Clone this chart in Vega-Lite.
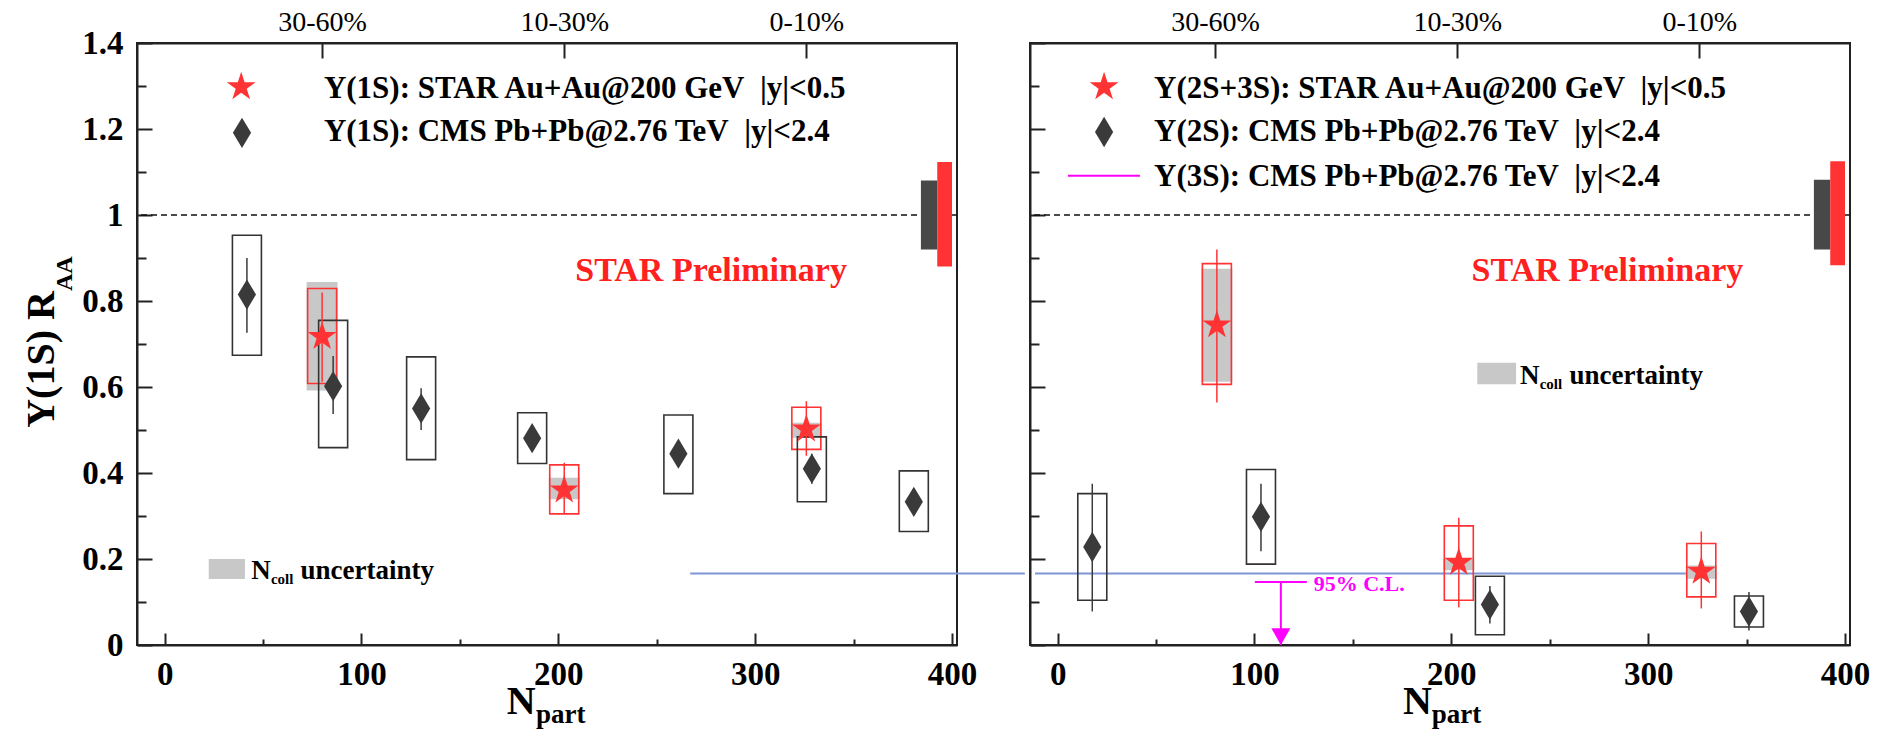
{
  "$schema": "https://vega.github.io/schema/vega-lite/v6.json",
  "background": "white",
  "padding": {"left": 20, "top": 7, "right": 0, "bottom": 0},
  "spacing": 73,
  "bounds": "flush",
  "config": {"view": {"stroke": "#222", "strokeWidth": 2}, "axis": {"grid": false}},
  "datasets": {
    "points": [
      {"panel":"1S","series":"STAR","N":80,"R":0.717,"errLo":0.612,"errHi":0.82,"sysLo":0.608,"sysHi":0.829,"ncollLo":0.592,"ncollHi":0.844},
      {"panel":"1S","series":"STAR","N":203,"R":0.36,"errLo":0.305,"errHi":0.424,"sysLo":0.305,"sysHi":0.419,"ncollLo":0.339,"ncollHi":0.389},
      {"panel":"1S","series":"STAR","N":326,"R":0.502,"errLo":0.44,"errHi":0.567,"sysLo":0.455,"sysHi":0.553,"ncollLo":0.482,"ncollHi":0.517},
      {"panel":"1S","series":"CMS","N":41.8,"R":0.815,"errLo":0.726,"errHi":0.9,"sysLo":0.674,"sysHi":0.953},
      {"panel":"1S","series":"CMS","N":85.6,"R":0.602,"errLo":0.537,"errHi":0.672,"sysLo":0.459,"sysHi":0.755},
      {"panel":"1S","series":"CMS","N":130.3,"R":0.55,"errLo":0.5,"errHi":0.597,"sysLo":0.431,"sysHi":0.67},
      {"panel":"1S","series":"CMS","N":186.7,"R":0.481,"errLo":0.455,"errHi":0.505,"sysLo":0.422,"sysHi":0.54},
      {"panel":"1S","series":"CMS","N":261,"R":0.445,"errLo":0.415,"errHi":0.475,"sysLo":0.352,"sysHi":0.535},
      {"panel":"1S","series":"CMS","N":328.8,"R":0.41,"errLo":0.375,"errHi":0.445,"sysLo":0.333,"sysHi":0.484},
      {"panel":"1S","series":"CMS","N":380.6,"R":0.333,"errLo":0.305,"errHi":0.36,"sysLo":0.264,"sysHi":0.405},
      {"panel":"2S3S","series":"STAR","N":80.9,"R":0.744,"errLo":0.564,"errHi":0.92,"sysLo":0.606,"sysHi":0.887,"ncollLo":0.612,"ncollHi":0.875},
      {"panel":"2S3S","series":"STAR","N":203.8,"R":0.192,"errLo":0.087,"errHi":0.296,"sysLo":0.104,"sysHi":0.277,"ncollLo":0.174,"ncollHi":0.2},
      {"panel":"2S3S","series":"STAR","N":327,"R":0.171,"errLo":0.085,"errHi":0.264,"sysLo":0.112,"sysHi":0.236,"ncollLo":0.154,"ncollHi":0.185},
      {"panel":"2S3S","series":"CMS","N":17.6,"R":0.228,"errLo":0.078,"errHi":0.375,"sysLo":0.104,"sysHi":0.352},
      {"panel":"2S3S","series":"CMS","N":103.3,"R":0.298,"errLo":0.218,"errHi":0.375,"sysLo":0.188,"sysHi":0.408},
      {"panel":"2S3S","series":"CMS","N":219.6,"R":0.094,"errLo":0.05,"errHi":0.137,"sysLo":0.024,"sysHi":0.16},
      {"panel":"2S3S","series":"CMS","N":351.2,"R":0.078,"errLo":0.034,"errHi":0.123,"sysLo":0.042,"sysHi":0.114}
    ],
    "legendMarks": [
      {"panel":"1S","series":"STAR","N":38.9,"R":1.298},
      {"panel":"1S","series":"CMS","N":39.3,"R":1.191},
      {"panel":"2S3S","series":"STAR","N":23.6,"R":1.298},
      {"panel":"2S3S","series":"CMS","N":23.6,"R":1.193}
    ],
    "norm": [
      {"panel":"1S","kind":"CMS","N1":384.2,"N2":392.5,"lo":0.92,"hi":1.08},
      {"panel":"1S","kind":"STAR","N1":392.5,"N2":400,"lo":0.88,"hi":1.123},
      {"panel":"2S3S","kind":"CMS","N1":384.2,"N2":392.5,"lo":0.92,"hi":1.082},
      {"panel":"2S3S","kind":"STAR","N1":392.5,"N2":400,"lo":0.883,"hi":1.125}
    ],
    "ncollKey": [
      {"panel":"1S","N1":22.4,"N2":40.8,"lo":0.1535,"hi":0.2},
      {"panel":"2S3S","N1":213.2,"N2":232.9,"lo":0.6065,"hi":0.6565}
    ],
    "blueLine": [
      {"panel":"1S","N1":267,"N2":437,"R":0.1665},
      {"panel":"2S3S","N1":-11.5,"N2":328,"R":0.1665}
    ],
    "limitKey": [
      {"panel":"2S3S","N":23.5,"R":1.091}
    ],
    "upper": [
      {"panel":"2S3S","N":113.4,"R":0.1465,"base":0}
    ],
    "texts": [
      {"panel":"1S","role":"legend","N":80.9,"R":1.273,"label":"\u03a5(1S): STAR Au+Au@200 GeV\u00a0\u00a0|y|<0.5"},
      {"panel":"1S","role":"legend","N":80.9,"R":1.172,"label":"\u03a5(1S): CMS Pb+Pb@2.76 TeV\u00a0\u00a0|y|<2.4"},
      {"panel":"1S","role":"prelim","N":208.6,"R":0.8465,"label":"STAR Preliminary"},
      {"panel":"1S","role":"ncollN","N":44,"R":0.1535,"label":"N"},
      {"panel":"1S","role":"ncollSub","N":54,"R":0.142,"label":"coll"},
      {"panel":"1S","role":"ncollText","N":69,"R":0.1535,"label":"uncertainty"},
      {"panel":"1S","role":"ytitle","N":-56.4,"R":0.823,"label":"\u03a5(1S) R"},
      {"panel":"1S","role":"ytitleSub","N":-46.9,"R":0.823,"label":"AA"},
      {"panel":"1S","role":"xtitle","N":173.8,"R":-0.1605,"label":"N"},
      {"panel":"1S","role":"xtitleSub","N":188.6,"R":-0.1814,"label":"part"},
      {"panel":"2S3S","role":"legend","N":49,"R":1.273,"label":"\u03a5(2S+3S): STAR Au+Au@200 GeV\u00a0\u00a0|y|<0.5"},
      {"panel":"2S3S","role":"legend","N":49,"R":1.171,"label":"\u03a5(2S): CMS Pb+Pb@2.76 TeV\u00a0\u00a0|y|<2.4"},
      {"panel":"2S3S","role":"legend","N":49,"R":1.067,"label":"\u03a5(3S): CMS Pb+Pb@2.76 TeV\u00a0\u00a0|y|<2.4"},
      {"panel":"2S3S","role":"prelim","N":210.3,"R":0.8465,"label":"STAR Preliminary"},
      {"panel":"2S3S","role":"ncollN","N":234.9,"R":0.6063,"label":"N"},
      {"panel":"2S3S","role":"ncollSub","N":244.9,"R":0.595,"label":"coll"},
      {"panel":"2S3S","role":"ncollText","N":260,"R":0.6063,"label":"uncertainty"},
      {"panel":"2S3S","role":"xtitle","N":175.4,"R":-0.1605,"label":"N"},
      {"panel":"2S3S","role":"xtitleSub","N":190,"R":-0.1814,"label":"part"},
      {"panel":"2S3S","role":"cl","N":130.1,"R":0.1256,"label":"95% C.L."}
    ]
  },
  "hconcat": [
    {
      "width": 820, "height": 602,
      "resolve": {"axis": {"x": "independent", "y": "independent"}},
      "layer": [
        {"data": {"values": [{"one": 1}]},
         "mark": {"type": "rule", "strokeDash": [6, 4], "strokeWidth": 1.5, "color": "#111"},
         "encoding": {"y": {"datum": 1, "type": "quantitative", "scale": {"domain": [0, 1.4], "nice": false, "zero": false}, "axis": null}}},
        {"data": {"name": "blueLine"}, "transform": [{"filter": "datum.panel == '1S'"}],
         "mark": {"type": "rule", "strokeWidth": 2, "color": "#7f95d6"},
         "encoding": {"x": {"field": "N1", "type": "quantitative", "scale": {"domain": [-11.5, 400], "nice": false, "zero": false}, "axis": null},
                      "x2": {"field": "N2"},
                      "y": {"field": "R", "type": "quantitative", "scale": {"domain": [0, 1.4], "nice": false, "zero": false}, "axis": null}}},
        {"data": {"name": "norm"}, "transform": [{"filter": "datum.panel == '1S'"}],
         "mark": {"type": "rect"},
         "encoding": {"x": {"field": "N1", "type": "quantitative", "scale": {"domain": [-11.5, 400], "nice": false, "zero": false}, "axis": null},
                      "x2": {"field": "N2"},
                      "y": {"field": "lo", "type": "quantitative", "scale": {"domain": [0, 1.4], "nice": false, "zero": false}, "axis": null},
                      "y2": {"field": "hi"},
                      "fill": {"field": "kind", "type": "nominal", "scale": {"domain": ["STAR", "CMS"], "range": ["#ff3333", "#484848"]}, "legend": null}}},
        {"data": {"name": "ncollKey"}, "transform": [{"filter": "datum.panel == '1S'"}],
         "mark": {"type": "rect", "color": "#c8c8c8"},
         "encoding": {"x": {"field": "N1", "type": "quantitative", "scale": {"domain": [-11.5, 400], "nice": false, "zero": false}, "axis": null},
                      "x2": {"field": "N2"},
                      "y": {"field": "lo", "type": "quantitative", "scale": {"domain": [0, 1.4], "nice": false, "zero": false}, "axis": null},
                      "y2": {"field": "hi"}}},
        {"data": {"name": "points"}, "transform": [{"filter": "datum.panel == '1S' && datum.series == 'STAR'"}],
         "mark": {"type": "bar", "width": 31, "color": "#c8c8c8"},
         "encoding": {"x": {"field": "N", "type": "quantitative", "scale": {"domain": [-11.5, 400], "nice": false, "zero": false},
                            "axis": {"orient": "bottom", "values": [0, 100, 200, 300, 400], "format": "d", "title": null, "tickSize": -12, "tickWidth": 2, "tickColor": "#222", "domain": true, "domainColor": "#222", "domainWidth": 2, "labelFont": "Liberation Serif", "labelFontWeight": "bold", "labelFontSize": 33, "labelColor": "#000", "labelPadding": 25, "labelFlush": false, "labelOverlap": false, "grid": false}},
                      "y": {"field": "ncollLo", "type": "quantitative", "scale": {"domain": [0, 1.4], "nice": false, "zero": false},
                            "axis": {"orient": "left", "values": [0, 0.2, 0.4, 0.6, 0.8, 1, 1.2, 1.4], "format": "~g", "title": null, "tickSize": -15, "tickWidth": 2, "tickColor": "#222", "domain": true, "domainColor": "#222", "domainWidth": 2, "labelFont": "Liberation Serif", "labelFontWeight": "bold", "labelFontSize": 33, "labelColor": "#000", "labelPadding": 29, "labelOverlap": false, "grid": false}},
                      "y2": {"field": "ncollHi"}}},
        {"data": {"name": "points"}, "transform": [{"filter": "datum.panel == '1S'"}],
         "mark": {"type": "bar", "width": 29, "fillOpacity": 0, "strokeWidth": 1.6},
         "encoding": {"x": {"field": "N", "type": "quantitative", "scale": {"domain": [-11.5, 400], "nice": false, "zero": false},
                            "axis": {"orient": "bottom", "values": [50, 150, 250, 350], "title": null, "tickSize": -6, "tickWidth": 2, "tickColor": "#222", "domain": false, "labels": false, "grid": false}},
                      "y": {"field": "sysLo", "type": "quantitative", "scale": {"domain": [0, 1.4], "nice": false, "zero": false},
                            "axis": {"orient": "left", "values": [0.1, 0.3, 0.5, 0.7, 0.9, 1.1, 1.3], "title": null, "tickSize": -9, "tickWidth": 2, "tickColor": "#222", "domain": false, "labels": false, "grid": false}},
                      "y2": {"field": "sysHi"},
                      "stroke": {"field": "series", "type": "nominal", "scale": {"domain": ["STAR", "CMS"], "range": ["#ff3333", "#333333"]}, "legend": null}}},
        {"data": {"name": "points"}, "transform": [{"filter": "datum.panel == '1S'"}],
         "mark": {"type": "rule", "strokeWidth": 1.5},
         "encoding": {"x": {"field": "N", "type": "quantitative", "scale": {"domain": [-11.5, 400], "nice": false, "zero": false},
                            "axis": {"orient": "top", "values": [80, 203, 326], "labelExpr": "datum.value == 80 ? '30-60%' : (datum.value == 203 ? '10-30%' : '0-10%')", "title": null, "tickSize": -15, "tickWidth": 2, "tickColor": "#222", "domain": true, "domainColor": "#222", "domainWidth": 2, "labelFont": "Liberation Serif", "labelFontSize": 28, "labelColor": "#000", "labelPadding": 22, "labelFlush": false, "labelOverlap": false, "grid": false}},
                      "y": {"field": "errLo", "type": "quantitative", "scale": {"domain": [0, 1.4], "nice": false, "zero": false}, "axis": null},
                      "y2": {"field": "errHi"},
                      "color": {"field": "series", "type": "nominal", "scale": {"domain": ["STAR", "CMS"], "range": ["#ff3333", "#3a3a3a"]}, "legend": null}}},
        {"data": {"name": "points"}, "transform": [{"filter": "datum.panel == '1S'"}],
         "mark": {"type": "point", "filled": true, "opacity": 1, "size": 920, "strokeWidth": 0},
         "encoding": {"x": {"field": "N", "type": "quantitative", "scale": {"domain": [-11.5, 400], "nice": false, "zero": false}, "axis": null},
                      "y": {"field": "R", "type": "quantitative", "scale": {"domain": [0, 1.4], "nice": false, "zero": false}, "axis": null},
                      "shape": {"field": "series", "type": "nominal", "scale": {"domain": ["STAR", "CMS"], "range": ["M0,-1L0.2245,-0.309L0.9511,-0.309L0.3633,0.118L0.5878,0.809L0,0.382L-0.5878,0.809L-0.3633,0.118L-0.9511,-0.309L-0.2245,-0.309Z", "M0,-1L0.6,0L0,1L-0.6,0Z"]}, "legend": null},
                      "color": {"field": "series", "type": "nominal", "scale": {"domain": ["STAR", "CMS"], "range": ["#ff3333", "#3a3a3a"]}, "legend": null}}},
        {"data": {"name": "legendMarks"}, "transform": [{"filter": "datum.panel == '1S'"}],
         "mark": {"type": "point", "filled": true, "opacity": 1, "size": 920, "strokeWidth": 0},
         "encoding": {"x": {"field": "N", "type": "quantitative", "scale": {"domain": [-11.5, 400], "nice": false, "zero": false}, "axis": null},
                      "y": {"field": "R", "type": "quantitative", "scale": {"domain": [0, 1.4], "nice": false, "zero": false}, "axis": null},
                      "shape": {"field": "series", "type": "nominal", "scale": {"domain": ["STAR", "CMS"], "range": ["M0,-1L0.2245,-0.309L0.9511,-0.309L0.3633,0.118L0.5878,0.809L0,0.382L-0.5878,0.809L-0.3633,0.118L-0.9511,-0.309L-0.2245,-0.309Z", "M0,-1L0.6,0L0,1L-0.6,0Z"]}, "legend": null},
                      "color": {"field": "series", "type": "nominal", "scale": {"domain": ["STAR", "CMS"], "range": ["#ff3333", "#3a3a3a"]}, "legend": null}}},
        {"data": {"name": "texts"}, "transform": [{"filter": "datum.panel == '1S' && datum.role == 'legend'"}],
         "mark": {"type": "text", "align": "left", "baseline": "alphabetic", "font": "Liberation Serif", "fontSize": 31, "fontWeight": "bold", "color": "#000"},
         "encoding": {"x": {"field": "N", "type": "quantitative", "scale": {"domain": [-11.5, 400], "nice": false, "zero": false}, "axis": null},
                      "y": {"field": "R", "type": "quantitative", "scale": {"domain": [0, 1.4], "nice": false, "zero": false}, "axis": null},
                      "text": {"field": "label"}}},
        {"data": {"name": "texts"}, "transform": [{"filter": "datum.panel == '1S' && datum.role == 'prelim'"}],
         "mark": {"type": "text", "align": "left", "baseline": "alphabetic", "font": "Liberation Serif", "fontSize": 34, "fontWeight": "bold", "color": "#ff2020"},
         "encoding": {"x": {"field": "N", "type": "quantitative", "scale": {"domain": [-11.5, 400], "nice": false, "zero": false}, "axis": null},
                      "y": {"field": "R", "type": "quantitative", "scale": {"domain": [0, 1.4], "nice": false, "zero": false}, "axis": null},
                      "text": {"field": "label"}}},
        {"data": {"name": "texts"}, "transform": [{"filter": "datum.panel == '1S' && datum.role == 'ncollN'"}],
         "mark": {"type": "text", "align": "left", "baseline": "alphabetic", "font": "Liberation Serif", "fontSize": 27, "fontWeight": "bold", "color": "#000"},
         "encoding": {"x": {"field": "N", "type": "quantitative", "scale": {"domain": [-11.5, 400], "nice": false, "zero": false}, "axis": null},
                      "y": {"field": "R", "type": "quantitative", "scale": {"domain": [0, 1.4], "nice": false, "zero": false}, "axis": null},
                      "text": {"field": "label"}}},
        {"data": {"name": "texts"}, "transform": [{"filter": "datum.panel == '1S' && datum.role == 'ncollSub'"}],
         "mark": {"type": "text", "align": "left", "baseline": "alphabetic", "font": "Liberation Serif", "fontSize": 15, "fontWeight": "bold", "color": "#000"},
         "encoding": {"x": {"field": "N", "type": "quantitative", "scale": {"domain": [-11.5, 400], "nice": false, "zero": false}, "axis": null},
                      "y": {"field": "R", "type": "quantitative", "scale": {"domain": [0, 1.4], "nice": false, "zero": false}, "axis": null},
                      "text": {"field": "label"}}},
        {"data": {"name": "texts"}, "transform": [{"filter": "datum.panel == '1S' && datum.role == 'ncollText'"}],
         "mark": {"type": "text", "align": "left", "baseline": "alphabetic", "font": "Liberation Serif", "fontSize": 27, "fontWeight": "bold", "color": "#000"},
         "encoding": {"x": {"field": "N", "type": "quantitative", "scale": {"domain": [-11.5, 400], "nice": false, "zero": false}, "axis": null},
                      "y": {"field": "R", "type": "quantitative", "scale": {"domain": [0, 1.4], "nice": false, "zero": false}, "axis": null},
                      "text": {"field": "label"}}},
        {"data": {"name": "texts"}, "transform": [{"filter": "datum.panel == '1S' && datum.role == 'ytitle'"}],
         "mark": {"type": "text", "angle": 270, "align": "right", "baseline": "alphabetic", "font": "Liberation Serif", "fontSize": 40, "fontWeight": "bold", "color": "#000"},
         "encoding": {"x": {"field": "N", "type": "quantitative", "scale": {"domain": [-11.5, 400], "nice": false, "zero": false}, "axis": null},
                      "y": {"field": "R", "type": "quantitative", "scale": {"domain": [0, 1.4], "nice": false, "zero": false}, "axis": null},
                      "text": {"field": "label"}}},
        {"data": {"name": "texts"}, "transform": [{"filter": "datum.panel == '1S' && datum.role == 'ytitleSub'"}],
         "mark": {"type": "text", "angle": 270, "align": "left", "baseline": "alphabetic", "font": "Liberation Serif", "fontSize": 24, "fontWeight": "bold", "color": "#000"},
         "encoding": {"x": {"field": "N", "type": "quantitative", "scale": {"domain": [-11.5, 400], "nice": false, "zero": false}, "axis": null},
                      "y": {"field": "R", "type": "quantitative", "scale": {"domain": [0, 1.4], "nice": false, "zero": false}, "axis": null},
                      "text": {"field": "label"}}},
        {"data": {"name": "texts"}, "transform": [{"filter": "datum.panel == '1S' && datum.role == 'xtitle'"}],
         "mark": {"type": "text", "align": "left", "baseline": "alphabetic", "font": "Liberation Serif", "fontSize": 40, "fontWeight": "bold", "color": "#000"},
         "encoding": {"x": {"field": "N", "type": "quantitative", "scale": {"domain": [-11.5, 400], "nice": false, "zero": false}, "axis": null},
                      "y": {"field": "R", "type": "quantitative", "scale": {"domain": [0, 1.4], "nice": false, "zero": false}, "axis": null},
                      "text": {"field": "label"}}},
        {"data": {"name": "texts"}, "transform": [{"filter": "datum.panel == '1S' && datum.role == 'xtitleSub'"}],
         "mark": {"type": "text", "align": "left", "baseline": "alphabetic", "font": "Liberation Serif", "fontSize": 27, "fontWeight": "bold", "color": "#000"},
         "encoding": {"x": {"field": "N", "type": "quantitative", "scale": {"domain": [-11.5, 400], "nice": false, "zero": false}, "axis": null},
                      "y": {"field": "R", "type": "quantitative", "scale": {"domain": [0, 1.4], "nice": false, "zero": false}, "axis": null},
                      "text": {"field": "label"}}}
      ]
    },
    {
      "width": 820, "height": 602,
      "resolve": {"axis": {"x": "independent", "y": "independent"}},
      "layer": [
        {"data": {"values": [{"one": 1}]},
         "mark": {"type": "rule", "strokeDash": [6, 4], "strokeWidth": 1.5, "color": "#111"},
         "encoding": {"y": {"datum": 1, "type": "quantitative", "scale": {"domain": [0, 1.4], "nice": false, "zero": false}, "axis": null}}},
        {"data": {"name": "blueLine"}, "transform": [{"filter": "datum.panel == '2S3S'"}],
         "mark": {"type": "rule", "strokeWidth": 2, "color": "#7f95d6"},
         "encoding": {"x": {"field": "N1", "type": "quantitative", "scale": {"domain": [-11.5, 400], "nice": false, "zero": false}, "axis": null},
                      "x2": {"field": "N2"},
                      "y": {"field": "R", "type": "quantitative", "scale": {"domain": [0, 1.4], "nice": false, "zero": false}, "axis": null}}},
        {"data": {"name": "norm"}, "transform": [{"filter": "datum.panel == '2S3S'"}],
         "mark": {"type": "rect"},
         "encoding": {"x": {"field": "N1", "type": "quantitative", "scale": {"domain": [-11.5, 400], "nice": false, "zero": false}, "axis": null},
                      "x2": {"field": "N2"},
                      "y": {"field": "lo", "type": "quantitative", "scale": {"domain": [0, 1.4], "nice": false, "zero": false}, "axis": null},
                      "y2": {"field": "hi"},
                      "fill": {"field": "kind", "type": "nominal", "scale": {"domain": ["STAR", "CMS"], "range": ["#ff3333", "#484848"]}, "legend": null}}},
        {"data": {"name": "ncollKey"}, "transform": [{"filter": "datum.panel == '2S3S'"}],
         "mark": {"type": "rect", "color": "#c8c8c8"},
         "encoding": {"x": {"field": "N1", "type": "quantitative", "scale": {"domain": [-11.5, 400], "nice": false, "zero": false}, "axis": null},
                      "x2": {"field": "N2"},
                      "y": {"field": "lo", "type": "quantitative", "scale": {"domain": [0, 1.4], "nice": false, "zero": false}, "axis": null},
                      "y2": {"field": "hi"}}},
        {"data": {"name": "points"}, "transform": [{"filter": "datum.panel == '2S3S' && datum.series == 'STAR'"}],
         "mark": {"type": "bar", "width": 31, "color": "#c8c8c8"},
         "encoding": {"x": {"field": "N", "type": "quantitative", "scale": {"domain": [-11.5, 400], "nice": false, "zero": false},
                            "axis": {"orient": "bottom", "values": [0, 100, 200, 300, 400], "format": "d", "title": null, "tickSize": -12, "tickWidth": 2, "tickColor": "#222", "domain": true, "domainColor": "#222", "domainWidth": 2, "labelFont": "Liberation Serif", "labelFontWeight": "bold", "labelFontSize": 33, "labelColor": "#000", "labelPadding": 25, "labelFlush": false, "labelOverlap": false, "grid": false}},
                      "y": {"field": "ncollLo", "type": "quantitative", "scale": {"domain": [0, 1.4], "nice": false, "zero": false},
                            "axis": {"orient": "left", "values": [0, 0.2, 0.4, 0.6, 0.8, 1, 1.2, 1.4], "title": null, "tickSize": -15, "tickWidth": 2, "tickColor": "#222", "domain": true, "domainColor": "#222", "domainWidth": 2, "labels": false, "grid": false}},
                      "y2": {"field": "ncollHi"}}},
        {"data": {"name": "points"}, "transform": [{"filter": "datum.panel == '2S3S'"}],
         "mark": {"type": "bar", "width": 29, "fillOpacity": 0, "strokeWidth": 1.6},
         "encoding": {"x": {"field": "N", "type": "quantitative", "scale": {"domain": [-11.5, 400], "nice": false, "zero": false},
                            "axis": {"orient": "bottom", "values": [50, 150, 250, 350], "title": null, "tickSize": -6, "tickWidth": 2, "tickColor": "#222", "domain": false, "labels": false, "grid": false}},
                      "y": {"field": "sysLo", "type": "quantitative", "scale": {"domain": [0, 1.4], "nice": false, "zero": false},
                            "axis": {"orient": "left", "values": [0.1, 0.3, 0.5, 0.7, 0.9, 1.1, 1.3], "title": null, "tickSize": -9, "tickWidth": 2, "tickColor": "#222", "domain": false, "labels": false, "grid": false}},
                      "y2": {"field": "sysHi"},
                      "stroke": {"field": "series", "type": "nominal", "scale": {"domain": ["STAR", "CMS"], "range": ["#ff3333", "#333333"]}, "legend": null}}},
        {"data": {"name": "points"}, "transform": [{"filter": "datum.panel == '2S3S'"}],
         "mark": {"type": "rule", "strokeWidth": 1.5},
         "encoding": {"x": {"field": "N", "type": "quantitative", "scale": {"domain": [-11.5, 400], "nice": false, "zero": false},
                            "axis": {"orient": "top", "values": [80, 203, 326], "labelExpr": "datum.value == 80 ? '30-60%' : (datum.value == 203 ? '10-30%' : '0-10%')", "title": null, "tickSize": -15, "tickWidth": 2, "tickColor": "#222", "domain": true, "domainColor": "#222", "domainWidth": 2, "labelFont": "Liberation Serif", "labelFontSize": 28, "labelColor": "#000", "labelPadding": 22, "labelFlush": false, "labelOverlap": false, "grid": false}},
                      "y": {"field": "errLo", "type": "quantitative", "scale": {"domain": [0, 1.4], "nice": false, "zero": false}, "axis": null},
                      "y2": {"field": "errHi"},
                      "color": {"field": "series", "type": "nominal", "scale": {"domain": ["STAR", "CMS"], "range": ["#ff3333", "#3a3a3a"]}, "legend": null}}},
        {"data": {"name": "points"}, "transform": [{"filter": "datum.panel == '2S3S'"}],
         "mark": {"type": "point", "filled": true, "opacity": 1, "size": 920, "strokeWidth": 0},
         "encoding": {"x": {"field": "N", "type": "quantitative", "scale": {"domain": [-11.5, 400], "nice": false, "zero": false}, "axis": null},
                      "y": {"field": "R", "type": "quantitative", "scale": {"domain": [0, 1.4], "nice": false, "zero": false}, "axis": null},
                      "shape": {"field": "series", "type": "nominal", "scale": {"domain": ["STAR", "CMS"], "range": ["M0,-1L0.2245,-0.309L0.9511,-0.309L0.3633,0.118L0.5878,0.809L0,0.382L-0.5878,0.809L-0.3633,0.118L-0.9511,-0.309L-0.2245,-0.309Z", "M0,-1L0.6,0L0,1L-0.6,0Z"]}, "legend": null},
                      "color": {"field": "series", "type": "nominal", "scale": {"domain": ["STAR", "CMS"], "range": ["#ff3333", "#3a3a3a"]}, "legend": null}}},
        {"data": {"name": "legendMarks"}, "transform": [{"filter": "datum.panel == '2S3S'"}],
         "mark": {"type": "point", "filled": true, "opacity": 1, "size": 920, "strokeWidth": 0},
         "encoding": {"x": {"field": "N", "type": "quantitative", "scale": {"domain": [-11.5, 400], "nice": false, "zero": false}, "axis": null},
                      "y": {"field": "R", "type": "quantitative", "scale": {"domain": [0, 1.4], "nice": false, "zero": false}, "axis": null},
                      "shape": {"field": "series", "type": "nominal", "scale": {"domain": ["STAR", "CMS"], "range": ["M0,-1L0.2245,-0.309L0.9511,-0.309L0.3633,0.118L0.5878,0.809L0,0.382L-0.5878,0.809L-0.3633,0.118L-0.9511,-0.309L-0.2245,-0.309Z", "M0,-1L0.6,0L0,1L-0.6,0Z"]}, "legend": null},
                      "color": {"field": "series", "type": "nominal", "scale": {"domain": ["STAR", "CMS"], "range": ["#ff3333", "#3a3a3a"]}, "legend": null}}},
        {"data": {"name": "limitKey"},
         "mark": {"type": "tick", "orient": "horizontal", "size": 72, "thickness": 2, "color": "#ff00ff", "opacity": 1},
         "encoding": {"x": {"field": "N", "type": "quantitative", "scale": {"domain": [-11.5, 400], "nice": false, "zero": false}, "axis": null},
                      "y": {"field": "R", "type": "quantitative", "scale": {"domain": [0, 1.4], "nice": false, "zero": false}, "axis": null}}},
        {"data": {"name": "upper"},
         "mark": {"type": "tick", "orient": "horizontal", "size": 52, "thickness": 2, "color": "#ff00ff", "opacity": 1},
         "encoding": {"x": {"field": "N", "type": "quantitative", "scale": {"domain": [-11.5, 400], "nice": false, "zero": false}, "axis": null},
                      "y": {"field": "R", "type": "quantitative", "scale": {"domain": [0, 1.4], "nice": false, "zero": false}, "axis": null}}},
        {"data": {"name": "upper"},
         "mark": {"type": "rule", "strokeWidth": 2, "color": "#ff00ff"},
         "encoding": {"x": {"field": "N", "type": "quantitative", "scale": {"domain": [-11.5, 400], "nice": false, "zero": false}, "axis": null},
                      "y": {"field": "R", "type": "quantitative", "scale": {"domain": [0, 1.4], "nice": false, "zero": false}, "axis": null},
                      "y2": {"field": "base"}}},
        {"data": {"name": "upper"},
         "mark": {"type": "point", "filled": true, "opacity": 1, "size": 1115, "strokeWidth": 0, "color": "#ff00ff", "shape": "M-0.57,-1L0.57,-1L0,0Z"},
         "encoding": {"x": {"field": "N", "type": "quantitative", "scale": {"domain": [-11.5, 400], "nice": false, "zero": false}, "axis": null},
                      "y": {"field": "base", "type": "quantitative", "scale": {"domain": [0, 1.4], "nice": false, "zero": false}, "axis": null}}},
        {"data": {"name": "texts"}, "transform": [{"filter": "datum.panel == '2S3S' && datum.role == 'cl'"}],
         "mark": {"type": "text", "align": "left", "baseline": "alphabetic", "font": "Liberation Serif", "fontSize": 22, "fontWeight": "bold", "color": "#ff00ff"},
         "encoding": {"x": {"field": "N", "type": "quantitative", "scale": {"domain": [-11.5, 400], "nice": false, "zero": false}, "axis": null},
                      "y": {"field": "R", "type": "quantitative", "scale": {"domain": [0, 1.4], "nice": false, "zero": false}, "axis": null},
                      "text": {"field": "label"}}},
        {"data": {"name": "texts"}, "transform": [{"filter": "datum.panel == '2S3S' && datum.role == 'legend'"}],
         "mark": {"type": "text", "align": "left", "baseline": "alphabetic", "font": "Liberation Serif", "fontSize": 31, "fontWeight": "bold", "color": "#000"},
         "encoding": {"x": {"field": "N", "type": "quantitative", "scale": {"domain": [-11.5, 400], "nice": false, "zero": false}, "axis": null},
                      "y": {"field": "R", "type": "quantitative", "scale": {"domain": [0, 1.4], "nice": false, "zero": false}, "axis": null},
                      "text": {"field": "label"}}},
        {"data": {"name": "texts"}, "transform": [{"filter": "datum.panel == '2S3S' && datum.role == 'prelim'"}],
         "mark": {"type": "text", "align": "left", "baseline": "alphabetic", "font": "Liberation Serif", "fontSize": 34, "fontWeight": "bold", "color": "#ff2020"},
         "encoding": {"x": {"field": "N", "type": "quantitative", "scale": {"domain": [-11.5, 400], "nice": false, "zero": false}, "axis": null},
                      "y": {"field": "R", "type": "quantitative", "scale": {"domain": [0, 1.4], "nice": false, "zero": false}, "axis": null},
                      "text": {"field": "label"}}},
        {"data": {"name": "texts"}, "transform": [{"filter": "datum.panel == '2S3S' && datum.role == 'ncollN'"}],
         "mark": {"type": "text", "align": "left", "baseline": "alphabetic", "font": "Liberation Serif", "fontSize": 27, "fontWeight": "bold", "color": "#000"},
         "encoding": {"x": {"field": "N", "type": "quantitative", "scale": {"domain": [-11.5, 400], "nice": false, "zero": false}, "axis": null},
                      "y": {"field": "R", "type": "quantitative", "scale": {"domain": [0, 1.4], "nice": false, "zero": false}, "axis": null},
                      "text": {"field": "label"}}},
        {"data": {"name": "texts"}, "transform": [{"filter": "datum.panel == '2S3S' && datum.role == 'ncollSub'"}],
         "mark": {"type": "text", "align": "left", "baseline": "alphabetic", "font": "Liberation Serif", "fontSize": 15, "fontWeight": "bold", "color": "#000"},
         "encoding": {"x": {"field": "N", "type": "quantitative", "scale": {"domain": [-11.5, 400], "nice": false, "zero": false}, "axis": null},
                      "y": {"field": "R", "type": "quantitative", "scale": {"domain": [0, 1.4], "nice": false, "zero": false}, "axis": null},
                      "text": {"field": "label"}}},
        {"data": {"name": "texts"}, "transform": [{"filter": "datum.panel == '2S3S' && datum.role == 'ncollText'"}],
         "mark": {"type": "text", "align": "left", "baseline": "alphabetic", "font": "Liberation Serif", "fontSize": 27, "fontWeight": "bold", "color": "#000"},
         "encoding": {"x": {"field": "N", "type": "quantitative", "scale": {"domain": [-11.5, 400], "nice": false, "zero": false}, "axis": null},
                      "y": {"field": "R", "type": "quantitative", "scale": {"domain": [0, 1.4], "nice": false, "zero": false}, "axis": null},
                      "text": {"field": "label"}}},
        {"data": {"name": "texts"}, "transform": [{"filter": "datum.panel == '2S3S' && datum.role == 'xtitle'"}],
         "mark": {"type": "text", "align": "left", "baseline": "alphabetic", "font": "Liberation Serif", "fontSize": 40, "fontWeight": "bold", "color": "#000"},
         "encoding": {"x": {"field": "N", "type": "quantitative", "scale": {"domain": [-11.5, 400], "nice": false, "zero": false}, "axis": null},
                      "y": {"field": "R", "type": "quantitative", "scale": {"domain": [0, 1.4], "nice": false, "zero": false}, "axis": null},
                      "text": {"field": "label"}}},
        {"data": {"name": "texts"}, "transform": [{"filter": "datum.panel == '2S3S' && datum.role == 'xtitleSub'"}],
         "mark": {"type": "text", "align": "left", "baseline": "alphabetic", "font": "Liberation Serif", "fontSize": 27, "fontWeight": "bold", "color": "#000"},
         "encoding": {"x": {"field": "N", "type": "quantitative", "scale": {"domain": [-11.5, 400], "nice": false, "zero": false}, "axis": null},
                      "y": {"field": "R", "type": "quantitative", "scale": {"domain": [0, 1.4], "nice": false, "zero": false}, "axis": null},
                      "text": {"field": "label"}}}
      ]
    }
  ]
}
